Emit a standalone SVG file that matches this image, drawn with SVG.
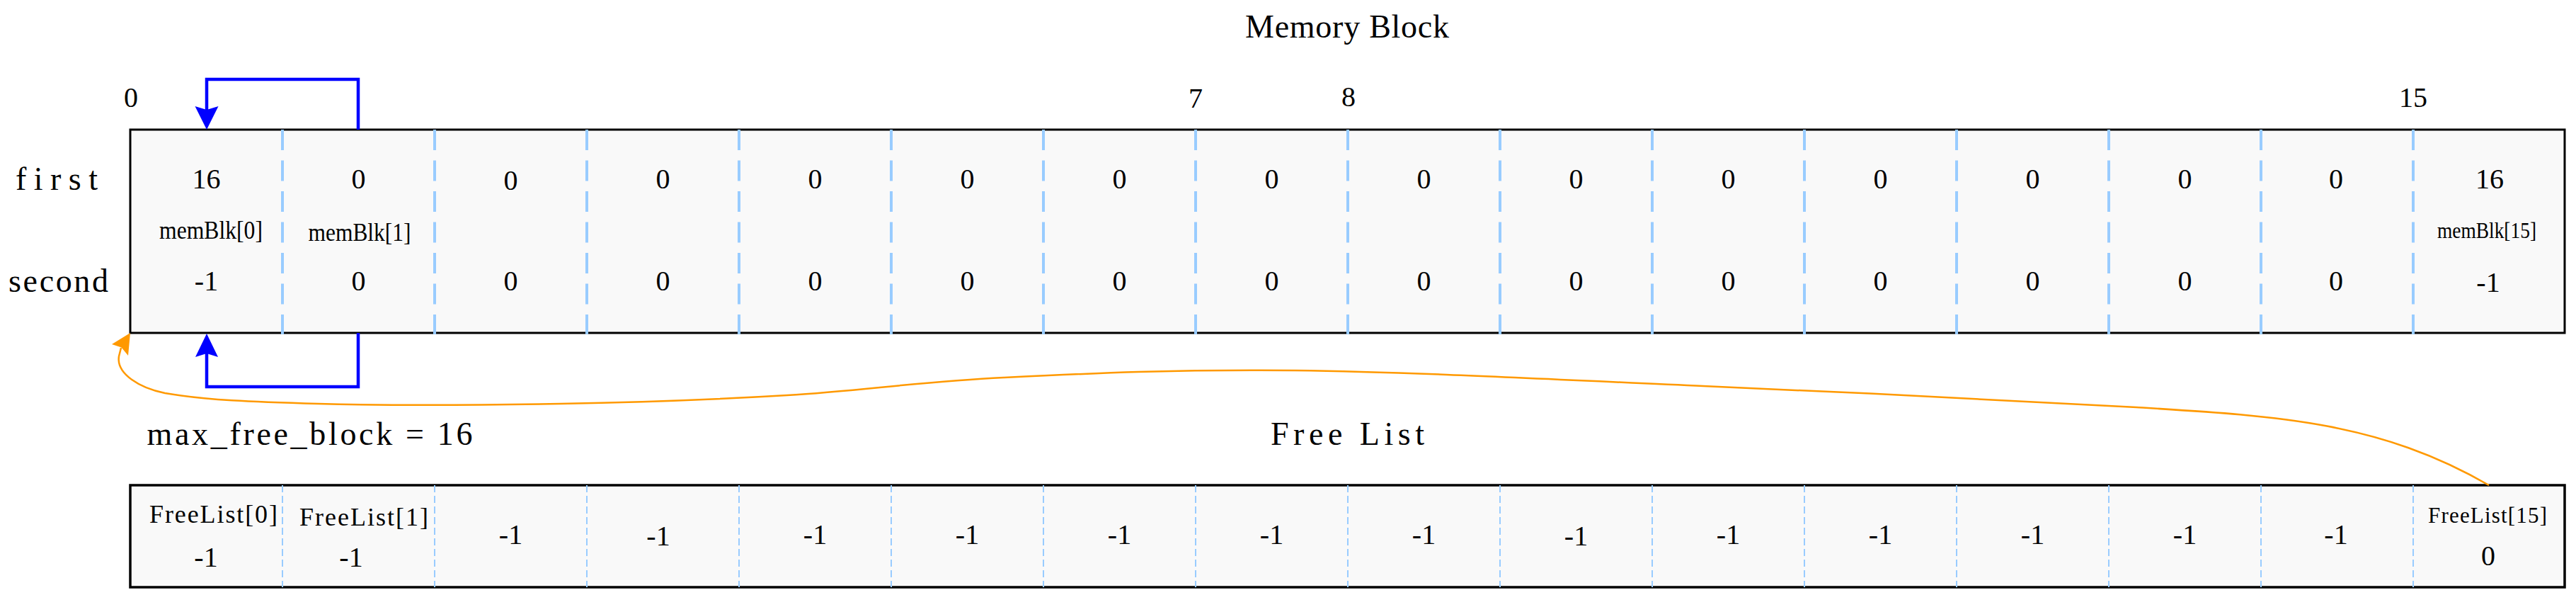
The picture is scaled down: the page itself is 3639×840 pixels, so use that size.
<svg xmlns="http://www.w3.org/2000/svg" width="3639" height="840" viewBox="0 0 3639 840">
<style>
.t{font-family:"Liberation Serif","Times New Roman",serif;fill:#000;text-anchor:middle}
.v{font-size:40px}
.big{font-size:46px}
.box{fill:#F9F9F9;stroke:#000}
.mdiv{stroke:#99CCFF;stroke-width:4;stroke-dasharray:29 14.5;fill:none}
.fdiv{stroke:#99CCFF;stroke-width:2;stroke-dasharray:10 5;fill:none}
.blue{fill:none;stroke:#0000FF;stroke-width:4.5;stroke-linejoin:miter}
.orange{fill:none;stroke:#FF9900;stroke-width:2.5}
</style>
<rect width="3639" height="840" fill="#FFFFFF"/>

<g id="title-memory-block"><text class="t big" x="1903" y="53" textLength="288">Memory Block</text></g>
<g id="index-labels">
<text class="t v" x="185" y="151">0</text>
<text class="t v" x="1689" y="152">7</text>
<text class="t v" x="1905" y="150">8</text>
<text class="t v" x="3409" y="151">15</text>
</g>
<g id="row-labels">
<text class="t big" x="80" y="268" textLength="116">first</text>
<text class="t big" x="82.5" y="412" textLength="141">second</text>
</g>

<g id="memory-block">
<rect class="box" x="184" y="183" width="3439" height="287" stroke-width="3"/>
<path class="mdiv" d="M399 183V472M614 183V472M829 183V472M1044 183V472M1259 183V472M1474 183V472M1689 183V472M1904 183V472M2119 183V472M2334 183V472M2549 183V472M2764 183V472M2979 183V472M3194 183V472M3409 183V472"/>
</g>
<g id="mem-cell-0" class="t v"><text x="291.5" y="266">16</text><text x="298" y="337" font-size="36" textLength="146" lengthAdjust="spacingAndGlyphs">memBlk[0]</text><text x="291.5" y="410">-1</text></g>
<g id="mem-cell-1" class="t v"><text x="506.5" y="266">0</text><text x="508" y="340" font-size="36" textLength="145" lengthAdjust="spacingAndGlyphs">memBlk[1]</text><text x="506.5" y="410">0</text></g>
<g id="mem-cell-2" class="t v"><text x="721.5" y="268">0</text><text x="721.5" y="410">0</text></g>
<g id="mem-cell-3" class="t v"><text x="936.5" y="266">0</text><text x="936.5" y="410">0</text></g>
<g id="mem-cell-4" class="t v"><text x="1151.5" y="266">0</text><text x="1151.5" y="410">0</text></g>
<g id="mem-cell-5" class="t v"><text x="1366.5" y="266">0</text><text x="1366.5" y="410">0</text></g>
<g id="mem-cell-6" class="t v"><text x="1581.5" y="266">0</text><text x="1581.5" y="410">0</text></g>
<g id="mem-cell-7" class="t v"><text x="1796.5" y="266">0</text><text x="1796.5" y="410">0</text></g>
<g id="mem-cell-8" class="t v"><text x="2011.5" y="266">0</text><text x="2011.5" y="410">0</text></g>
<g id="mem-cell-9" class="t v"><text x="2226.5" y="266">0</text><text x="2226.5" y="410">0</text></g>
<g id="mem-cell-10" class="t v"><text x="2441.5" y="266">0</text><text x="2441.5" y="410">0</text></g>
<g id="mem-cell-11" class="t v"><text x="2656.5" y="266">0</text><text x="2656.5" y="410">0</text></g>
<g id="mem-cell-12" class="t v"><text x="2871.5" y="266">0</text><text x="2871.5" y="410">0</text></g>
<g id="mem-cell-13" class="t v"><text x="3086.5" y="266">0</text><text x="3086.5" y="410">0</text></g>
<g id="mem-cell-14" class="t v"><text x="3300" y="266">0</text><text x="3300" y="410">0</text></g>
<g id="mem-cell-15" class="t v"><text x="3517" y="266">16</text><text x="3513" y="336" font-size="31" textLength="140" lengthAdjust="spacingAndGlyphs">memBlk[15]</text><text x="3515" y="412">-1</text></g>

<g id="max-free-block"><text class="t big" x="437.5" y="628" textLength="460">max_free_block = 16</text></g>
<g id="title-free-list"><text class="t big" x="1903.5" y="628" textLength="217">Free List</text></g>

<g id="free-list">
<rect class="box" x="184" y="685" width="3439" height="144" stroke-width="3.5"/>
<path class="fdiv" d="M399 685V829M614 685V829M829 685V829M1044 685V829M1259 685V829M1474 685V829M1689 685V829M1904 685V829M2119 685V829M2334 685V829M2549 685V829M2764 685V829M2979 685V829M3194 685V829M3409 685V829"/>
</g>
<g id="free-cell-0" class="t v"><text x="301.5" y="738" font-size="36" textLength="181">FreeList[0]</text><text x="291" y="800">-1</text></g>
<g id="free-cell-1" class="t v"><text x="514" y="742" font-size="36" textLength="182">FreeList[1]</text><text x="496" y="800">-1</text></g>
<g id="free-cell-2" class="t v"><text x="721.5" y="768">-1</text></g>
<g id="free-cell-3" class="t v"><text x="930" y="770">-1</text></g>
<g id="free-cell-4" class="t v"><text x="1151.5" y="768">-1</text></g>
<g id="free-cell-5" class="t v"><text x="1366.5" y="768">-1</text></g>
<g id="free-cell-6" class="t v"><text x="1581.5" y="768">-1</text></g>
<g id="free-cell-7" class="t v"><text x="1796.5" y="768">-1</text></g>
<g id="free-cell-8" class="t v"><text x="2011.5" y="768">-1</text></g>
<g id="free-cell-9" class="t v"><text x="2226.5" y="770">-1</text></g>
<g id="free-cell-10" class="t v"><text x="2441.5" y="768">-1</text></g>
<g id="free-cell-11" class="t v"><text x="2656.5" y="768">-1</text></g>
<g id="free-cell-12" class="t v"><text x="2871.5" y="768">-1</text></g>
<g id="free-cell-13" class="t v"><text x="3086.5" y="768">-1</text></g>
<g id="free-cell-14" class="t v"><text x="3300" y="768">-1</text></g>
<g id="free-cell-15" class="t v"><text x="3514" y="738" font-size="31" textLength="168">FreeList[15]</text><text x="3515" y="798">0</text></g>

<g id="connectors">
<path class="blue" d="M506 183V112H292V156"/>
<polygon fill="#0000FF" points="292,183 275.5,150 292,155 308.5,150"/>
<path class="blue" d="M506 470V546H292V498"/>
<polygon fill="#0000FF" points="292,471 276,504 292,499 308,504"/>
<path class="orange" d="M3516 685C3360.3 595 3217.6 587.4 3018 575C2869 565.8 2604 553.7 2406 545C2208 536.3 1994.7 525 1830 523C1665.3 521 1537.7 527.2 1418 533C1298.3 538.8 1216.5 551.8 1112 558C1007.5 564.2 901.3 568 791 570C680.7 572 543 572.5 450 570C357 567.5 290 565 233 555C198 548 164 528 168 503L171 491"/>
<polygon fill="#FF9900" points="184,470 158,486 171.5,490.5 181,502"/>
</g>
</svg>
